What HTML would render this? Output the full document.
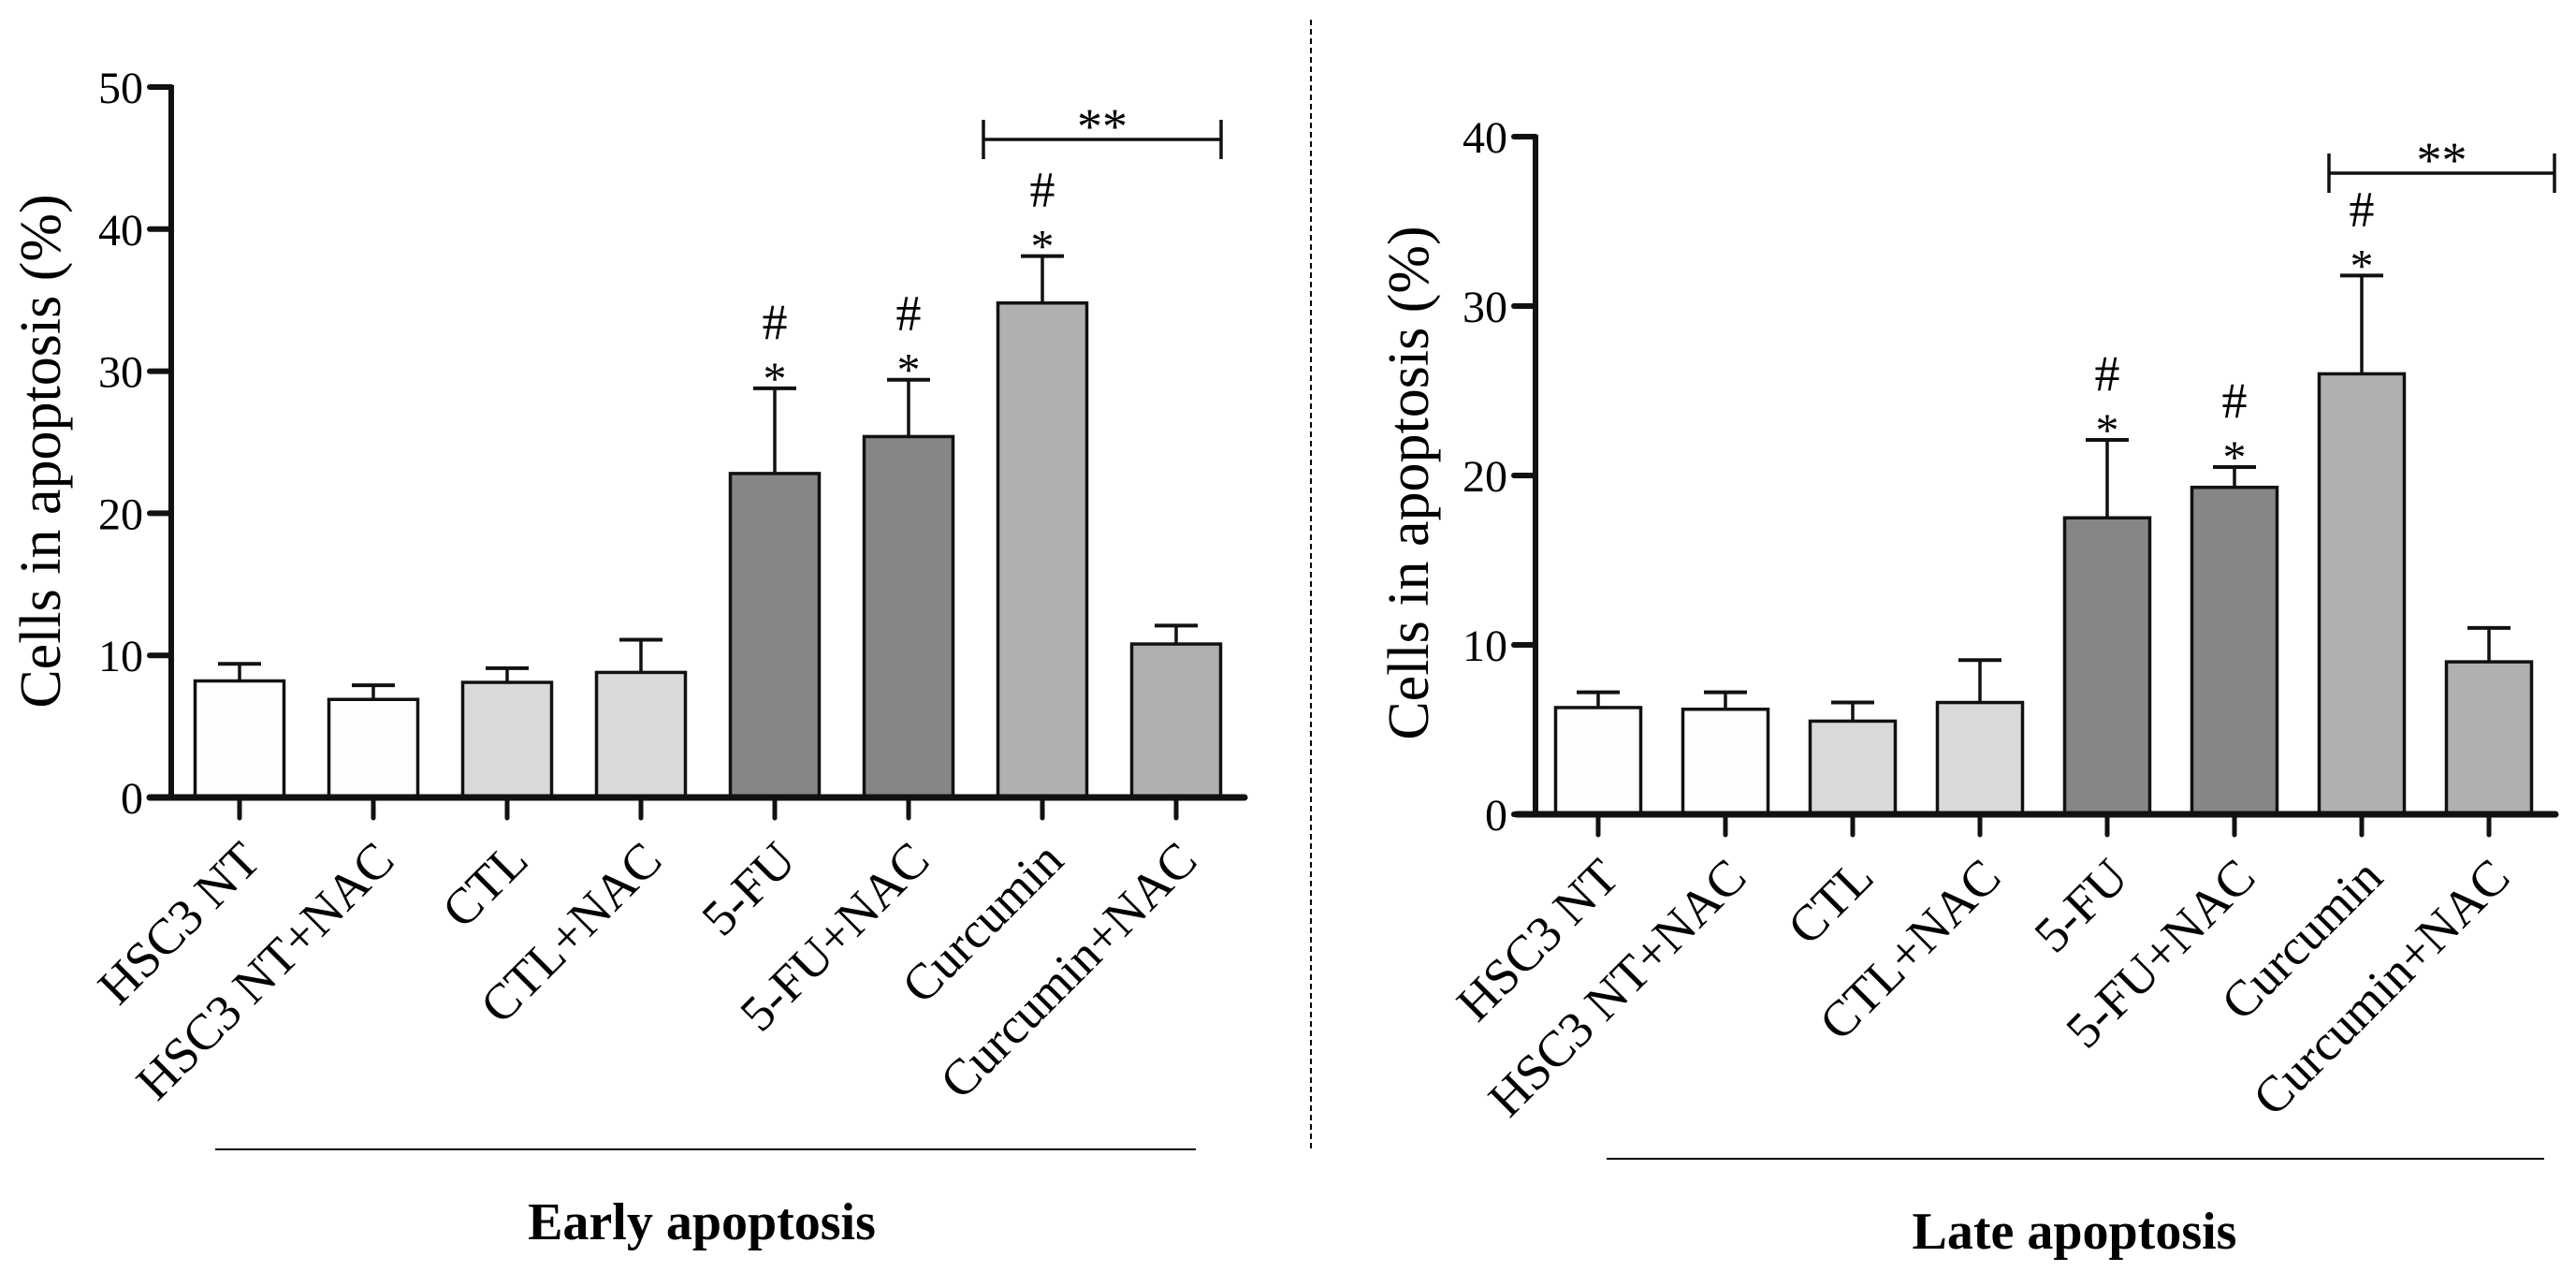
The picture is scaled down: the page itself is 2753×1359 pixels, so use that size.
<!DOCTYPE html>
<html><head><meta charset="utf-8"><style>
html,body{margin:0;padding:0;background:#fff;}
svg{display:block;font-family:"Liberation Serif",serif;}
</style></head><body>
<svg id="fig" width="2753" height="1359" viewBox="0 0 2753 1359" xmlns="http://www.w3.org/2000/svg">
<line x1="1401" y1="21" x2="1401" y2="1229" stroke="#000" stroke-width="2" stroke-dasharray="6,4"/>
</svg>
<script>
const categories = ["HSC3 NT","HSC3 NT+NAC","CTL","CTL+NAC","5-FU","5-FU+NAC","Curcumin","Curcumin+NAC"];
const earlyValues = [8.2, 6.9, 8.1, 8.8, 22.8, 25.4, 34.8, 10.8];
const earlyErrors = [1.2, 1.0, 1.0, 2.3, 6.0, 4.0, 3.3, 1.3];
const lateValues = [6.3, 6.2, 5.5, 6.6, 17.5, 19.3, 26.0, 9.0];
const lateErrors = [0.9, 1.0, 1.1, 2.5, 4.6, 1.2, 5.8, 2.0];
const earlyTicks = [0, 10, 20, 30, 40, 50];
const lateTicks = [0, 10, 20, 30, 40];
const sigMarks = ["", "", "", "", "#*", "#*", "#*", ""];
const barColors = ["#fdfdfb","#fdfdfb","#d9d9d9","#d9d9d9","#858685","#858685","#b0b0b0","#b0b0b0"];

const NS = "http://www.w3.org/2000/svg";
const svg = document.getElementById("fig");
function mk(tag, attrs, parent, text){
  const e = document.createElementNS(NS, tag);
  for (const k in attrs) e.setAttribute(k, attrs[k]);
  if (text !== undefined) e.textContent = text;
  (parent || svg).appendChild(e);
  return e;
}

function drawPanel(p){
  const g = mk("g", {});
  
  
  const yMax = p.ticks[p.ticks.length-1];
  const ys = v => p.y0 - (v / yMax) * (p.y0 - p.yTop);
  const xs = i => p.x0 + p.step * i;
  p.values.forEach((v, i) => {
    const cx = xs(i);
    const top = ys(v + p.errors[i]);
    const el = mk("line", {x1: cx, y1: ys(v), x2: cx, y2: top, stroke: "#111", "stroke-width": 3.5}, g);
    
    
    const cap = mk("line", {x1: cx - 23, y1: top, x2: cx + 23, y2: top, stroke: "#111", "stroke-width": 4}, g);
    
    
    const b = mk("rect", {x: cx - p.bw/2, y: ys(v), width: p.bw, height: p.y0 - ys(v), fill: barColors[i], stroke: "#111", "stroke-width": 3.5}, g);
    
    
    if (sigMarks[i]) {
      const s = mk("text", {x: cx, y: top + 6, "font-size": 50, "text-anchor": "middle"}, g, "*");
      
      
      const h = mk("text", {x: cx, y: top - 53, "font-size": 54, "text-anchor": "middle"}, g, "#");
      
      
    }
    const t = mk("line", {x1: cx, y1: p.y0, x2: cx, y2: p.y0 + 22, stroke: "#111", "stroke-width": 5, "stroke-linecap": "round"}, g);
    
    
    const lx = cx + 25, ly = p.y0 + 70;
    const lbl = mk("text", {x: lx, y: ly, "font-size": 54, "text-anchor": "end", transform: `rotate(-45 ${lx} ${ly})`}, g, categories[i]);
    
    
  });
  const ya = mk("line", {x1: p.ax, y1: p.yTop - 2, x2: p.ax, y2: p.y0 + 2, stroke: "#111", "stroke-width": 6}, g);
  
  
  const xa = mk("line", {x1: p.xStart, y1: p.y0, x2: p.xEnd, y2: p.y0, stroke: "#111", "stroke-width": 7, "stroke-linecap": "round"}, g);
  
  
  p.ticks.forEach(tv => {
    const y = ys(tv);
    const tk = mk("line", {x1: p.ax - 23, y1: y, x2: p.ax, y2: y, stroke: "#111", "stroke-width": 6, "stroke-linecap": "round"}, g);
    
    
    const tl = mk("text", {x: p.ax - 30, y: y + 17, "font-size": 48, "text-anchor": "end"}, g, String(tv));
    
    
  });
  const yt = mk("text", {x: p.ytx, y: p.yty, "font-size": 62, "text-anchor": "middle", transform: `rotate(-90 ${p.ytx} ${p.yty})`}, g, "Cells in apoptosis (%)");
  
  
  const br = mk("path", {d: `M${p.br1} ${p.brY-21}V${p.brY+21}M${p.br1} ${p.brY}H${p.br2}M${p.br2} ${p.brY-21}V${p.brY+21}`, stroke: "#111", "stroke-width": 3.5, fill: "none"}, g);
  
  
  const bs = mk("text", {x: (p.br1+p.br2)/2, y: p.brY + 4, "font-size": 54, "text-anchor": "middle"}, g, "**");
  
  
  const gl = mk("line", {x1: p.gl1, y1: p.glY, x2: p.gl2, y2: p.glY, stroke: "#000", "stroke-width": 2}, g);
  
  
  const tt = mk("text", {x: p.ttx, y: p.glY + 96, "font-size": 56, "font-weight": "bold", "text-anchor": "middle"}, g, p.title);
  
  
}

drawPanel({name: "early-apoptosis-chart", title: "Early apoptosis", values: earlyValues, errors: earlyErrors, ticks: earlyTicks,
  ax: 183, yTop: 93, y0: 852, x0: 256, step: 143, bw: 95, xStart: 160, xEnd: 1330,
  br1: 1051, br2: 1305, brY: 149,
  ytx: 64, yty: 482, gl1: 230, gl2: 1278, glY: 1228, ttx: 750});
drawPanel({name: "late-apoptosis-chart", title: "Late apoptosis", values: lateValues, errors: lateErrors, ticks: lateTicks,
  ax: 1641, yTop: 146, y0: 870, x0: 1708, step: 136, bw: 91, xStart: 1621, xEnd: 2731,
  br1: 2489, br2: 2730, brY: 185,
  ytx: 1526, yty: 516, gl1: 1717, gl2: 2719, glY: 1238, ttx: 2217});
</script>
</body></html>
